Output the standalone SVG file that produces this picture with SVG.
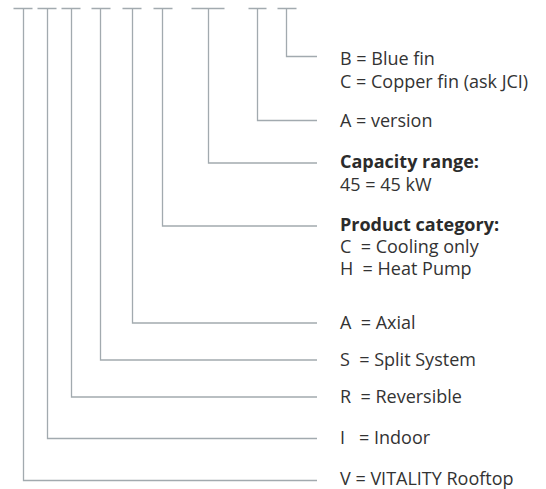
<svg xmlns="http://www.w3.org/2000/svg" width="546" height="489" viewBox="0 0 546 489">
<style>
.ln{fill:none;stroke:#a2aaaf;stroke-width:1.3}
.t{font-family:"Open Sans","Noto Sans",sans-serif;font-size:18px;fill:#333333;white-space:pre}
.b{font-weight:bold;fill:#2b2b2b}
</style>
<rect width="546" height="489" fill="#ffffff"/>
<g id="connectors">
<path class="ln" d="M13.5,8.5H32.5M23.5,8.5V480.5H317"/>
<path class="ln" d="M37.5,8.5H56.5M47.5,8.5V438.5H317"/>
<path class="ln" d="M61.5,8.5H80.5M71.5,8.5V397H317"/>
<path class="ln" d="M91.5,8.5H110.5M100.5,8.5V360H317"/>
<path class="ln" d="M122.5,8.5H141.5M132.5,8.5V323H317"/>
<path class="ln" d="M153.5,8.5H172.5M162.5,8.5V226H317"/>
<path class="ln" d="M191.5,8.5H224.5M208.5,8.5V163H317"/>
<path class="ln" d="M248.5,8.5H266.5M257.5,8.5V120.5H317"/>
<path class="ln" d="M277.5,8.5H296.5M286.5,8.5V56.5H317"/>
</g>
<g id="fin"><text class="t" x="340" y="65" xml:space="preserve">B = Blue fin</text><text class="t" x="340" y="88" xml:space="preserve">C = Copper fin (ask JCI)</text></g>
<g id="version"><text class="t" x="340" y="127" xml:space="preserve">A = version</text></g>
<g id="capacity"><text class="t b" x="340" y="168" xml:space="preserve">Capacity range:</text><text class="t" x="340" y="191" xml:space="preserve">45 = 45 kW</text></g>
<g id="category"><text class="t b" x="340" y="231" xml:space="preserve">Product category:</text><text class="t" x="340" y="253" xml:space="preserve">C  = Cooling only</text><text class="t" x="340" y="275" xml:space="preserve">H  = Heat Pump</text></g>
<g id="axial"><text class="t" x="340" y="329" xml:space="preserve">A  = Axial</text></g>
<g id="split"><text class="t" x="340" y="366" xml:space="preserve">S  = Split System</text></g>
<g id="reversible"><text class="t" x="340" y="403" xml:space="preserve">R  = Reversible</text></g>
<g id="indoor"><text class="t" x="340" y="444" xml:space="preserve">I   = Indoor</text></g>
<g id="vitality"><text class="t" x="340" y="485" xml:space="preserve">V = VITALITY Rooftop</text></g>
</svg>
